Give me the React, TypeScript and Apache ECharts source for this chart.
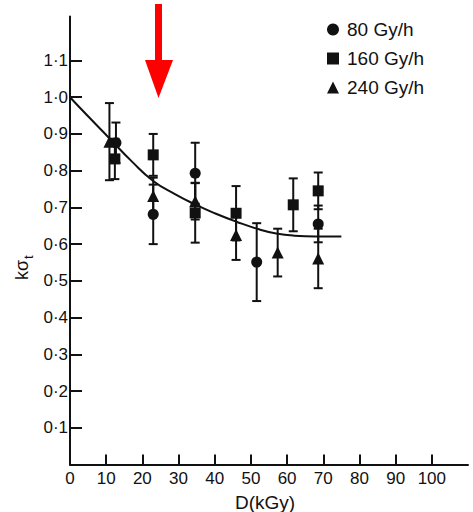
import React, { useEffect, useRef } from "react";
import * as echarts from "echarts";

// Series data
const dose80 = [12.7, 23.0, 34.6, 51.6, 68.6];
const k80 = [0.876, 0.681, 0.793, 0.551, 0.655];
const err80 = [0.055, 0.081, 0.083, 0.106, 0.05];

const dose160 = [12.4, 23.0, 34.6, 45.9, 61.7, 68.6];
const k160 = [0.832, 0.843, 0.685, 0.684, 0.707, 0.745];
const err160 = [0.055, 0.057, 0.081, 0.074, 0.072, 0.05];

const dose240 = [10.9, 23.0, 34.6, 45.9, 57.4, 68.6];
const k240 = [0.879, 0.731, 0.717, 0.625, 0.577, 0.561];
const err240 = [0.105, 0.05, 0.05, 0.068, 0.065, 0.081];

const fitDose = [0, 5, 11, 17, 23, 29, 35, 40, 46, 52, 57, 62, 68, 75];
const fitK = [1.0, 0.948, 0.887, 0.826, 0.772, 0.736, 0.706, 0.684, 0.661, 0.641, 0.629, 0.623, 0.621, 0.621];

const xTicks = [0, 10, 20, 30, 40, 50, 60, 70, 80, 90, 100];
const yTicks = [0.1, 0.2, 0.3, 0.4, 0.5, 0.6, 0.7, 0.8, 0.9, 1.0, 1.1];

const seriesNames = ["80 Gy/h", "160 Gy/h", "240 Gy/h"];

const INK = "#111";
const FONT = "Liberation Sans";

function pts(xs: number[], ys: number[]) {
  return xs.map((x, i) => [x, ys[i]]);
}
function errs(xs: number[], ys: number[], es: number[]) {
  return xs.map((x, i) => [x, ys[i] - es[i], ys[i] + es[i]]);
}

function errorSeries(data: number[][]) {
  return {
    type: "custom",
    silent: true,
    data,
    z: 3,
    renderItem: (params: any, api: any) => {
      const x = api.value(0);
      const lo = api.coord([x, api.value(1)]);
      const hi = api.coord([x, api.value(2)]);
      const w = 4.5;
      const style = { stroke: INK, lineWidth: 2 };
      return {
        type: "group",
        children: [
          { type: "line", shape: { x1: lo[0], y1: lo[1], x2: hi[0], y2: hi[1] }, style },
          { type: "line", shape: { x1: lo[0] - w, y1: lo[1], x2: lo[0] + w, y2: lo[1] }, style },
          { type: "line", shape: { x1: hi[0] - w, y1: hi[1], x2: hi[0] + w, y2: hi[1] }, style },
        ],
      };
    },
  };
}

export default function App() {
  const ref = useRef<HTMLDivElement>(null);
  useEffect(() => {
    if (!ref.current) return;
    const chart = echarts.init(ref.current, null, { renderer: "svg" });
    const option: any = {
      animation: false,
      backgroundColor: "#fff",
      textStyle: { fontFamily: FONT },
      grid: { left: 70, right: 5, top: 16.4, bottom: 47.5, containLabel: false },
      legend: {
        data: seriesNames,
        orient: "vertical",
        left: 327,
        top: 20,
        padding: 0,
        itemWidth: 12,
        itemHeight: 12,
        itemGap: 10,
        textStyle: { fontSize: 19, color: INK, fontFamily: FONT, padding: [0, 0, 0, 3] },
      },
      xAxis: {
        type: "value",
        min: 0,
        max: 110,
        interval: 10,
        axisLine: { show: true, lineStyle: { color: INK, width: 2 } },
        axisTick: {
          show: true,
          inside: true,
          length: 10,
          customValues: xTicks.slice(1),
          lineStyle: { color: INK, width: 2 },
        },
        axisLabel: {
          customValues: xTicks,
          margin: 5,
          fontSize: 17,
          color: INK,
          fontFamily: FONT,
        },
        splitLine: { show: false },
      },
      yAxis: {
        type: "value",
        min: 0,
        max: 1.22,
        interval: 0.1,
        axisLine: { show: true, lineStyle: { color: INK, width: 2 } },
        axisTick: {
          show: true,
          inside: true,
          length: 12,
          customValues: yTicks,
          lineStyle: { color: INK, width: 2 },
        },
        axisLabel: {
          customValues: yTicks,
          margin: 2,
          fontSize: 17,
          color: INK,
          fontFamily: FONT,
          formatter: (v: number) => v.toFixed(1).replace(".", "·"),
        },
        splitLine: { show: false },
      },
      series: [
        {
          name: "fit",
          type: "line",
          data: pts(fitDose, fitK),
          smooth: true,
          symbol: "none",
          lineStyle: { color: INK, width: 2 },
          z: 2,
        },
        errorSeries(errs(dose80, k80, err80)),
        errorSeries(errs(dose160, k160, err160)),
        errorSeries(errs(dose240, k240, err240)),
        {
          name: seriesNames[0],
          type: "scatter",
          symbol: "circle",
          symbolSize: 11,
          itemStyle: { color: INK, opacity: 1 },
          data: pts(dose80, k80),
          z: 4,
        },
        {
          name: seriesNames[1],
          type: "scatter",
          symbol: "rect",
          symbolSize: 11,
          itemStyle: { color: INK, opacity: 1 },
          data: pts(dose160, k160),
          z: 4,
        },
        {
          name: seriesNames[2],
          type: "scatter",
          symbol: "triangle",
          symbolSize: 12,
          itemStyle: { color: INK, opacity: 1 },
          data: pts(dose240, k240),
          z: 4,
        },
      ],
      graphic: [
        {
          type: "text",
          x: 265,
          y: 502,
          style: {
            text: "D(kGy)",
            fontSize: 19,
            fill: INK,
            fontFamily: FONT,
            textAlign: "center",
            textVerticalAlign: "middle",
          },
        },
        {
          type: "group",
          x: 22,
          y: 260,
          rotation: Math.PI / 2,
          children: [
            {
              type: "text",
              x: 0,
              y: 0,
              style: {
                text: "kσ",
                fontSize: 18,
                fill: INK,
                fontFamily: FONT,
                textAlign: "right",
                textVerticalAlign: "middle",
              },
            },
            {
              type: "text",
              x: 1,
              y: 6,
              style: {
                text: "t",
                fontSize: 13,
                fill: INK,
                fontFamily: FONT,
                textAlign: "left",
                textVerticalAlign: "middle",
              },
            },
          ],
        },
        {
          type: "rect",
          shape: { x: 155, y: 4, width: 7, height: 57 },
          style: { fill: "#ff0000" },
        },
        {
          type: "polygon",
          shape: { points: [[145, 60], [173, 60], [158.5, 98]] },
          style: { fill: "#ff0000" },
        },
      ],
    };
    chart.setOption(option);
    return () => chart.dispose();
  }, []);
  return <div ref={ref} style={{ width: 473, height: 512, position: "absolute", left: 0, top: 0 }} />;
}
